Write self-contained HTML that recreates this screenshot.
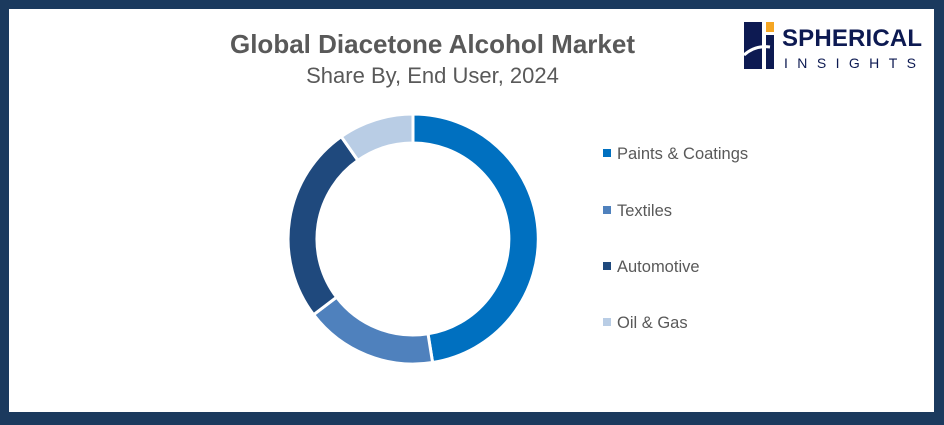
<!DOCTYPE html><html><head><style>
body{margin:0;width:944px;height:425px;overflow:hidden;background:#1b3a5e;font-family:"Liberation Sans",sans-serif}
.in{position:absolute;left:9px;top:9px;width:925px;height:403px;background:#fff}
.t{position:absolute;left:0;width:865px;text-align:center;color:#595959}
.lg{position:absolute;left:603px;font-size:16.5px;color:#595959}
.lg i{display:inline-block;width:8px;height:8px;margin-right:6px;vertical-align:2px}
</style></head><body><div class="in"></div>
<div class="t" style="top:29px;font-size:26px;font-weight:bold">Global Diacetone Alcohol Market</div>
<div class="t" style="top:63px;font-size:22px">Share By, End User, 2024</div>
<svg style="position:absolute;left:0;top:0" width="944" height="425">
<g stroke="#fff" stroke-width="3">
<path d="M413 114 A125 125 0 0 1 432.6 362.5 L428 333.8 A96 96 0 0 0 413 143Z" fill="#0070c0"/>
<path d="M432.6 362.5 A125 125 0 0 1 313.6 314.7 L336.6 297.2 A96 96 0 0 0 428 333.8Z" fill="#4f81bd"/>
<path d="M313.6 314.7 A125 125 0 0 1 341.3 136.6 L357.9 160.4 A96 96 0 0 0 336.6 297.2Z" fill="#1f497d"/>
<path d="M341.3 136.6 A125 125 0 0 1 413 114 L413 143 A96 96 0 0 0 357.9 160.4Z" fill="#b9cde5"/>
</g>
<rect x="744" y="22" width="18" height="47" fill="#0d1a52"/>
<rect x="766" y="22" width="8" height="10" fill="#f5a623"/>
<rect x="766" y="35" width="8" height="34" fill="#0d1a52"/>
<path d="M744 55 Q755 45 770 47" stroke="#fff" stroke-width="3" fill="none"/>
<text x="782" y="46" font-family="Liberation Sans" font-weight="bold" font-size="24" fill="#0d1a52" textLength="140">SPHERICAL</text>
<text x="784" y="68" font-family="Liberation Sans" font-size="14" fill="#0d1a52" textLength="138" letter-spacing="6">INSIGHTS</text>
</svg>
<div class="lg" style="top:145px"><i style="background:#0070c0"></i>Paints &amp; Coatings</div>
<div class="lg" style="top:202px"><i style="background:#4f81bd"></i>Textiles</div>
<div class="lg" style="top:258px"><i style="background:#1f497d"></i>Automotive</div>
<div class="lg" style="top:314px"><i style="background:#b9cde5"></i>Oil &amp; Gas</div>
</body></html>
